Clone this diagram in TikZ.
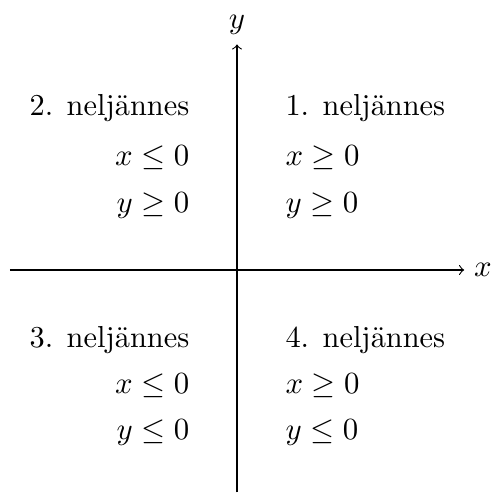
\documentclass[tikz,border=0pt]{standalone}
\usepackage{amsmath,amssymb}
\usetikzlibrary{positioning}

\begin{document}
\begin{tikzpicture}[
  >=to,
  every node/.style={font=\fontsize{10.8}{13}\selectfont},
  axis/.style={->,line width=0.4pt},
  lefttext/.style={anchor=east,inner sep=0pt},
  righttext/.style={anchor=west,inner sep=0pt}
]
\useasboundingbox (-2.9625,-2.7875) rectangle (3.2,3.375);
% akselit
\coordinate (xa) at (-2.84,0);
\coordinate (xb) at (2.84,0);
\coordinate (ya) at (0,-2.78);
\coordinate (yb) at (0,2.82);
\draw[axis] (xa) -- (xb) node[right] (xl) {$x$};
\draw[axis] (ya) -- (yb) node[above] (yl) {$y$};
% neljännekset
\node[righttext] (q1) at (0.6,2.02) {1. neljännes};
\node[righttext] (q1x) at (0.6,1.4) {$x\geq 0$};
\node[righttext] (q1y) at (0.6,0.81) {$y\geq 0$};
\node[lefttext] (q2) at (-0.59,2.02) {2. neljännes};
\node[lefttext] (q2x) at (-0.59,1.4) {$x\leq 0$};
\node[lefttext] (q2y) at (-0.59,0.81) {$y\geq 0$};
\node[lefttext] (q3) at (-0.59,-0.87) {3. neljännes};
\node[lefttext] (q3x) at (-0.59,-1.44) {$x\leq 0$};
\node[lefttext] (q3y) at (-0.59,-2.03) {$y\leq 0$};
\node[righttext] (q4) at (0.6,-0.87) {4. neljännes};
\node[righttext] (q4x) at (0.6,-1.44) {$x\geq 0$};
\node[righttext] (q4y) at (0.6,-2.03) {$y\leq 0$};
\end{tikzpicture}
\end{document}
